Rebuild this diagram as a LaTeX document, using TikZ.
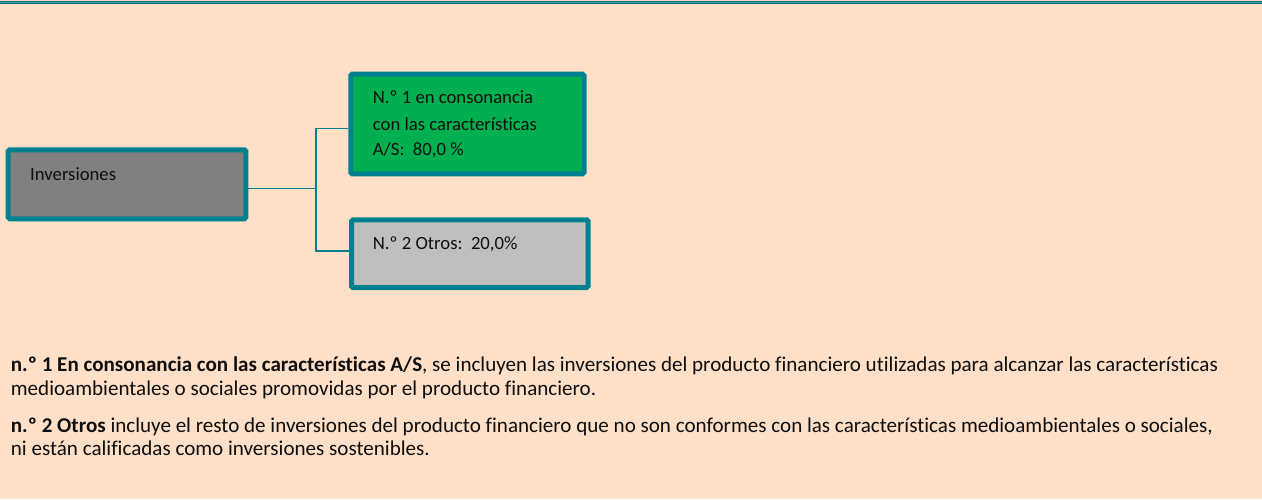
\documentclass[tikz,border=0pt]{standalone}
\usepackage{fontspec}
\setmainfont{Carlito}[Ligatures=NoCommon]
\definecolor{bg}{RGB}{254,223,199}
\definecolor{tealA}{RGB}{0,128,142}
\definecolor{tealDk}{RGB}{0,108,118}
\definecolor{tealLt}{RGB}{70,160,165}
\definecolor{grnA}{RGB}{0,176,80}
\definecolor{gryA}{RGB}{191,191,191}
\definecolor{dgryA}{RGB}{128,128,128}
\definecolor{inkA}{RGB}{15,15,15}
\newlength\calA
\newlength\calB
\begin{document}
\settowidth{\calA}{\fontsize{10pt}{12pt}\selectfont\textbf{n.º 1 En consonancia con las características A/S}, se incluyen las inversiones del producto financiero utilizadas para alcanzar las características}%
\settowidth{\calB}{\fontsize{10pt}{12pt}\selectfont con las características}%
\pgfmathsetmacro\fsA{10*1207/\calA}%
\pgfmathsetmacro\fsB{10*164/\calB}%
\begin{tikzpicture}[x=1pt,y=-1pt,
  boxst/.style={draw=tealA, line width=5pt, rounded corners=1.5pt, inner sep=0pt},
  conn/.style={draw=tealA, line width=1.3pt},
  boxtxt/.style={anchor=base west, inner sep=0pt, text=inkA, font=\fontsize{\fsB pt}{\fsB pt}\selectfont},
  bottxt/.style={anchor=base west, inner sep=0pt, text=inkA, font=\fontsize{\fsA pt}{\fsA pt}\selectfont}]
\useasboundingbox (0,0) rectangle (1262,499);
\fill[bg] (0,0) rectangle (1262,499);
% top rule
\fill[tealDk] (0,0.6) rectangle (1262,4.4);
\draw[tealLt, line width=0.8pt] (0,2.5) -- (1262,2.5);
% connector junction
\coordinate (jn) at (316,188.3);
% boxes
\node[boxst, fill=dgryA, minimum width=237.6pt, minimum height=69pt] (inv) at (127,184.3) {};
\node[boxst, fill=grnA, minimum width=233.2pt, minimum height=99.6pt] (grnbox) at (467.4,124) {};
\node[boxst, fill=gryA, minimum width=236.6pt, minimum height=67.7pt] (grybox) at (469.8,253.7) {};
% connectors
\draw[conn] ([yshift=-4pt]inv.east) -- (jn);
\draw[conn] (jn) |- ([yshift=-4.3pt]grnbox.west);
\draw[conn] (jn) |- ([yshift=2.7pt]grybox.west);
% box texts
\node[boxtxt] (tinv) at (30,180.7) {Inversiones};
\node[boxtxt] (tg1) at (372.7,103.3) {N.º 1 en consonancia};
\node[boxtxt] (tg2) at (372.7,130) {con las características};
\node[boxtxt] (tg3) at (372.7,155.7) {A/S:\ \ 80,0 \%};
\node[boxtxt] (tgr) at (372.7,249) {N.º 2 Otros:\ \ 20,0\%};
% bottom texts
\node[bottxt] (p1a) at (10.7,371) {\textbf{n.º 1 En consonancia con las características A/S}, se incluyen las inversiones del producto financiero utilizadas para alcanzar las características};
\node[bottxt] (p1b) at (10.7,395) {medioambientales o sociales promovidas por el producto financiero.};
\node[bottxt] (p2a) at (10.7,432) {\textbf{n.º 2 Otros} incluye el resto de inversiones del producto financiero que no son conformes con las características medioambientales o sociales,};
\node[bottxt] (p2b) at (10.7,455) {ni están calificadas como inversiones sostenibles.};
\end{tikzpicture}
\end{document}
